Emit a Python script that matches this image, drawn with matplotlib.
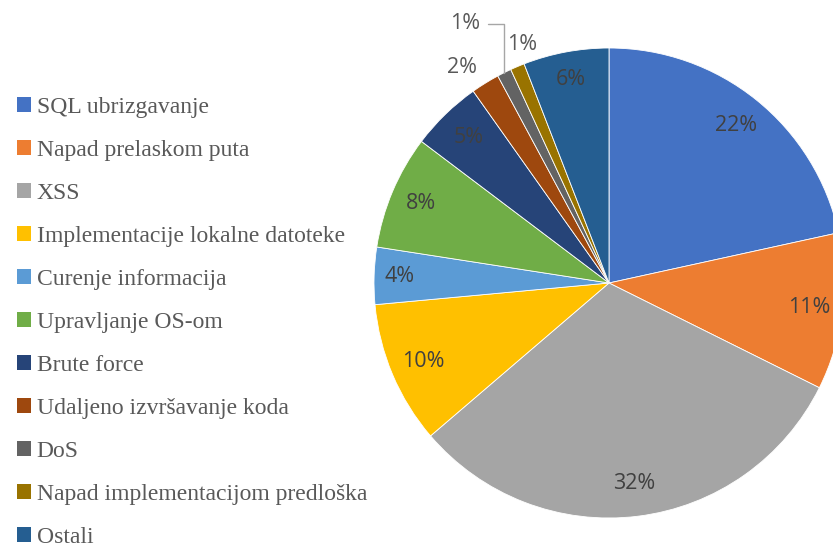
import numpy as np
import matplotlib.pyplot as plt
from matplotlib.patches import Patch

# data (percent shares)
categories = ['SQL ubrizgavanje', 'Napad prelaskom puta', 'XSS',
              'Implementacije lokalne datoteke', 'Curenje informacija',
              'Upravljanje OS-om', 'Brute force', 'Udaljeno izvršavanje koda',
              'DoS', 'Napad implementacijom predloška', 'Ostali']
values = [22, 11, 32, 10, 4, 8, 5, 2, 1, 1, 6]
pct_labels = ['22%', '11%', '32%', '10%', '4%', '8%', '5%', '2%', '1%', '1%', '6%']

colors = ['#4472C4', '#ED7D31', '#A5A5A5', '#FFC000', '#5B9BD5', '#70AD47',
          '#264478', '#9E480E', '#636363', '#997300', '#255E91']

# where each label sits: distance from centre (in radii) and angle nudge (deg)
label_dist = [0.86, 0.86, 0.86, 0.86, 0.89, 0.87, 0.86, 1.11, 1.26, 1.08, 0.88]
label_nudge = [0, 0, 0, 0, 0, 0, 0, 2.5, 2.5, -3, 0]

fig = plt.figure(figsize=(8.33, 5.47), dpi=100)
ax = fig.add_axes([374/833, 29/547, 470/833, 470/547])

wedges, _ = ax.pie(values, colors=colors, startangle=90, counterclock=False,
                   radius=1.0, wedgeprops=dict(linewidth=0.6, edgecolor='white'))
ax.set_xlim(-1, 1)
ax.set_ylim(-1, 1)
ax.set_aspect('equal')
ax.axis('off')

for i, w in enumerate(wedges):
    mid = np.deg2rad((w.theta1 + w.theta2) / 2)
    ang = mid + np.deg2rad(label_nudge[i])
    d = label_dist[i]
    col = '#404040' if d < 1 else '#595959'
    if categories[i] == 'DoS':
        # label pulled out with a leader line
        ax.annotate(pct_labels[i], xy=(np.cos(mid), np.sin(mid)),
                    xytext=(d * np.cos(ang), d * np.sin(ang)),
                    ha='center', va='center', fontsize=15.5, color=col,
                    family='Open Sans',
                    arrowprops=dict(arrowstyle='-', color='#a6a6a6', lw=1,
                                    shrinkA=3, shrinkB=0,
                                    connectionstyle='angle,angleA=0,angleB=90,rad=0'))
        continue
    ax.text(d * np.cos(ang), d * np.sin(ang), pct_labels[i], ha='center',
            va='center', fontsize=15.5, color=col, family='Open Sans')

handles = [Patch(facecolor=c, edgecolor='none') for c in colors]
fig.legend(handles, categories, loc='upper left', bbox_to_anchor=(0.0, 0.853),
           frameon=False, prop={'family': 'Liberation Serif', 'size': 17},
           labelcolor='#595959', handlelength=0.6, handleheight=0.6,
           handletextpad=0.25, labelspacing=0.93, borderaxespad=0.3)

fig.savefig('out.png', dpi=100)
